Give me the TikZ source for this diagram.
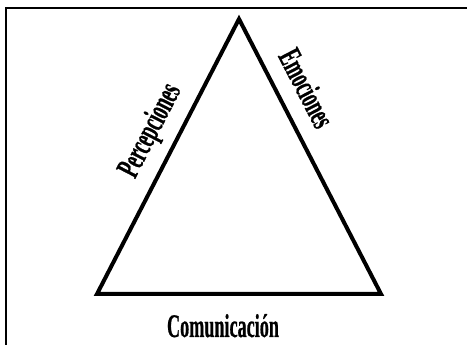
\documentclass[tikz,border=0pt]{standalone}
\usepackage{fontspec}
\setmainfont{Liberation Serif}
\newfontfamily\condfont{Liberation Serif}[FakeStretch=0.55, FakeBold=0.6, BoldFont={Liberation Serif Bold}]
\begin{document}
\begin{tikzpicture}[x=1pt,y=1pt,
  framestyle/.style={line width=2pt},
  tri/.style={line width=4pt, line join=miter},
  lbl/.style={inner sep=0pt, font=\condfont\fontsize{33}{33}\selectfont\bfseries}]
\useasboundingbox (0,0) rectangle (467,345);
% frame (top and left edges visible)
\coordinate (fl) at (6,0);
\coordinate (ftl) at (6,337);
\coordinate (ftr) at (467,337);
\draw[framestyle] (fl) -- (ftl) -- (ftr);
% triangle
\coordinate (apex) at (239,326);
\coordinate (bl) at (97,51);
\coordinate (br) at (381,51);
\draw[tri] (apex) -- (bl) -- (br) -- cycle;
% labels
\node[lbl, rotate=62.7] (perc) at (151,214) {Percepciones};
\node[lbl, rotate=-62.6] (emoc) at (307,257) {Emociones};
\node[lbl, anchor=base] (comu) at (223,8) {Comunicación};
\end{tikzpicture}
\end{document}
